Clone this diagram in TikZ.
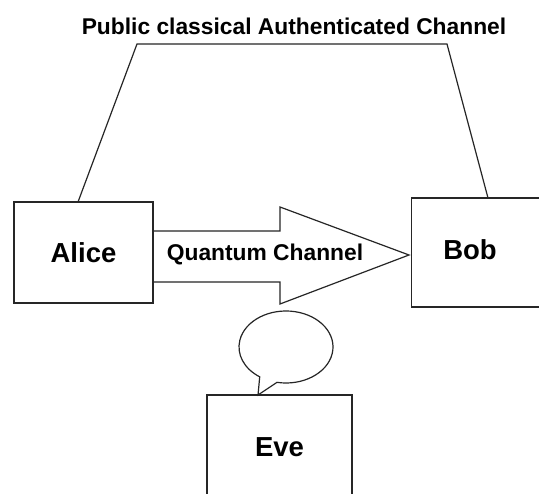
\documentclass[tikz,border=0pt]{standalone}
\usepackage{fontspec}
\setmainfont{Liberation Sans}
\usetikzlibrary{calc}
\begin{document}
\begin{tikzpicture}[x=1pt,y=-1pt,
  line/.style={draw=black!85, line width=1.2pt},
  box/.style={line, rectangle, inner sep=0pt},
  big/.style={font=\fontsize{27.5}{30}\selectfont\bfseries},
  small/.style={font=\fontsize{22.8}{26}\selectfont\bfseries}]
\useasboundingbox[fill=white] (0,0) rectangle (539,494);
% title
\node[small] (title) at (294,26) {Public classical Authenticated Channel};
% boxes
\node[box, big, minimum width=139, minimum height=101] (alice) at (83.5,252.5) {Alice};
\node[box, anchor=west, minimum width=160, minimum height=109] (bob) at (411,252.5) {};
\node[big] (bobtxt) at (470,250) {Bob};
\node[box, big, minimum width=145, minimum height=104] (eve) at (279.5,447) {Eve};
% public channel
\coordinate (a1) at (78,202);
\coordinate (pl) at (137,44);
\coordinate (pr) at (447,44);
\coordinate (b1) at (488,198);
\draw[line] (a1) -- (pl) -- (pr) -- (b1);
% quantum channel arrow
\coordinate (tip) at (409,255);
\draw[line, line join=miter] (153,231) -- (280,231) -- (280,207) -- (tip) -- (280,304) -- (280,282) -- (153,282);
\node[small] (qc) at (265,254) {Quantum Channel};
% speech bubble
\coordinate (bc) at (286,347);
\coordinate (evetail) at (258,395);
\draw[line, line join=miter] ($(bc)+(-101:47 and -36)$) arc[start angle=-101, end angle=236, x radius=47, y radius=-36] -- (evetail) -- cycle;
\end{tikzpicture}
\end{document}
